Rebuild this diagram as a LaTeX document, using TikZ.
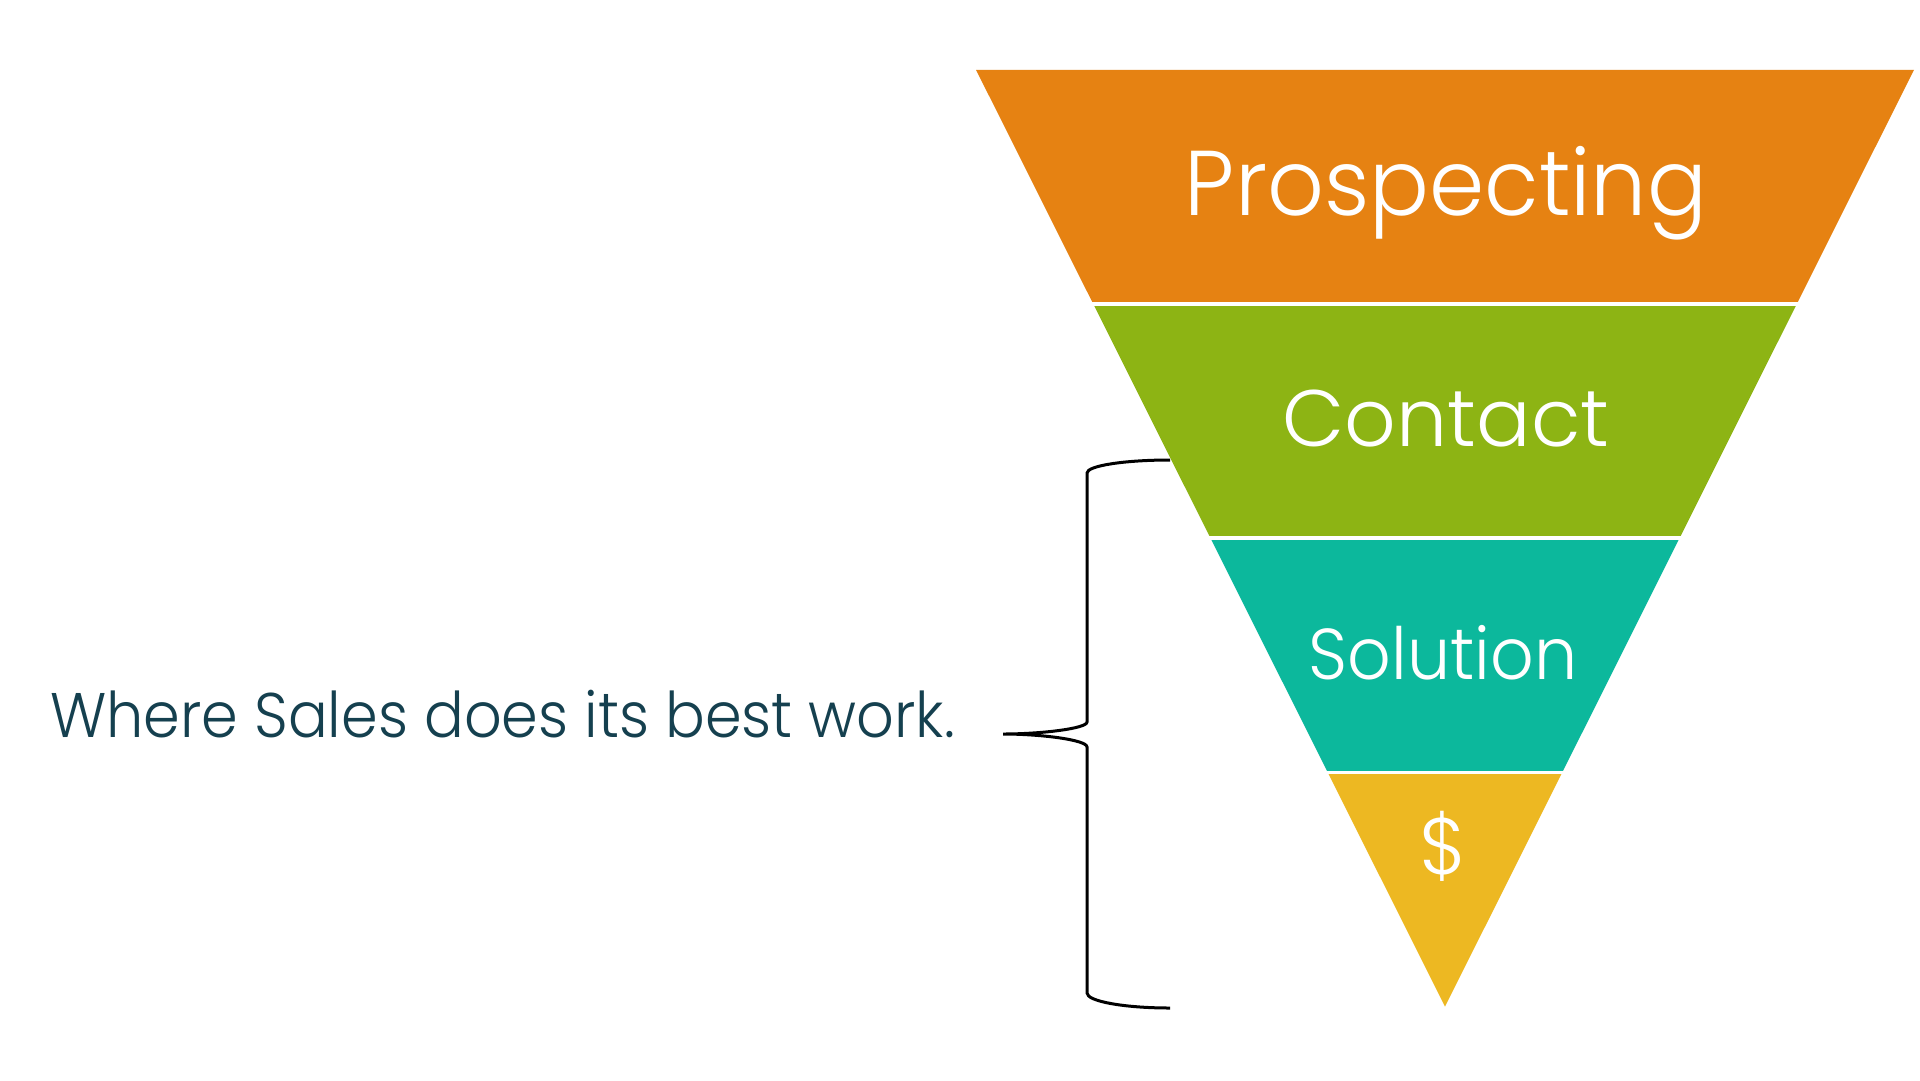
\documentclass[tikz,border=0pt]{standalone}
\usepackage{fontspec}
\setmainfont{Poppins}[UprightFont={* Light}]
\definecolor{cOrange}{HTML}{E68212}
\definecolor{cGreen}{HTML}{8DB414}
\definecolor{cTeal}{HTML}{0CB89C}
\definecolor{cYellow}{HTML}{EDB822}
\definecolor{cText}{HTML}{15404F}
\tikzset{
  bandlabel/.style={text=white, anchor=base, inner sep=0pt},
  gapline/.style={draw=white, line width=3.5pt},
  bracket/.style={draw=black, line width=3pt},
}
\begin{document}
\begin{tikzpicture}[x=1pt,y=-1pt]
\useasboundingbox (0,0) rectangle (1920,1080);
\fill[white] (0,0) rectangle (1920,1080);
% funnel corners
\coordinate (tl) at (976,69.8);     \coordinate (tr) at (1914,69.8);
\coordinate (l1) at (1093.25,304);  \coordinate (r1) at (1796.75,304);
\coordinate (l2) at (1210.5,538.2); \coordinate (r2) at (1679.5,538.2);
\coordinate (l3) at (1327.75,772.4);\coordinate (r3) at (1562.25,772.4);
\coordinate (apex) at (1445,1006.6);
\fill[cOrange] (tl) -- (tr) -- (r1) -- (l1) -- cycle;
\fill[cGreen] (l1) -- (r1) -- (r2) -- (l2) -- cycle;
\fill[cTeal] (l2) -- (r2) -- (r3) -- (l3) -- cycle;
\fill[cYellow] (l3) -- (r3) -- (apex) -- cycle;
\draw[gapline] ([xshift=-5pt]l1) -- ([xshift=5pt]r1);
\draw[gapline] ([xshift=-5pt]l2) -- ([xshift=5pt]r2);
\draw[gapline] ([xshift=-5pt]l3) -- ([xshift=5pt]r3);
% labels
\node[bandlabel, font=\fontsize{92}{110}\selectfont] (prosp) at (1446,215) {\scalebox{0.965}[1]{Prospecting}};
\node[bandlabel, font=\fontsize{80}{96}\selectfont] (contact) at (1446,446) {\scalebox{1.009}[1]{Contact}};
\node[bandlabel, font=\fontsize{72}{86}\selectfont] (solution) at (1443,679) {\scalebox{0.947}[1]{Solution}};
\node[bandlabel, font=\fontsize{80}{96}\selectfont] (dollar) at (1443,874) {\$};
\node[text=cText, anchor=base west, inner sep=0pt, font=\fontsize{63}{76}\selectfont] (where) at (50,737) {\scalebox{0.935}[1]{Where Sales does its best work.}};
% brace
\coordinate (bTop) at (1170,460);
\coordinate (bTip) at (1003,734);
\coordinate (bBot) at (1170,1008);
\draw[bracket] (bTop) .. controls (1124,460) and (1087,465.8) .. (1087,473)
  -- (1087,722) .. controls (1087,728.6) and (1040.6,734) .. (bTip)
  .. controls (1040.6,734) and (1087,739.8) .. (1087,747)
  -- (1087,993) .. controls (1087,1001.3) and (1124,1008) .. (bBot);
\end{tikzpicture}
\end{document}
